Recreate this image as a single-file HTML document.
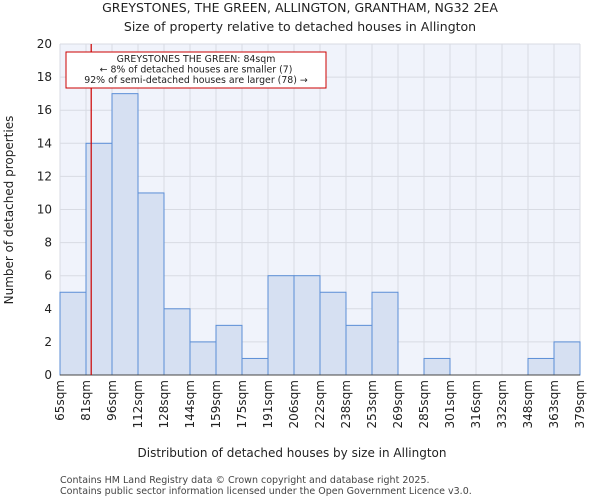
<!DOCTYPE html>
<html><head><meta charset="utf-8"><style>
body{margin:0;background:#fff;font-family:"DejaVu Sans","Liberation Sans",sans-serif}
svg text{font-family:"DejaVu Sans","Liberation Sans",sans-serif}
</style></head><body>
<svg id="c" width="600" height="500">
<text x="300" y="12" text-anchor="middle" font-size="12.5" fill="#222">GREYSTONES, THE GREEN, ALLINGTON, GRANTHAM, NG32 2EA</text>
<text x="300" y="31" text-anchor="middle" font-size="12.5" fill="#222">Size of property relative to detached houses in Allington</text>
<rect x="60" y="44" width="520" height="331" fill="#f0f3fb"/>
<g id="grid"></g><g id="bars"></g><g id="axes"></g>
<line id="marker" stroke="#cc0000" stroke-width="1.2"/>
<rect x="66" y="52" width="260" height="36" fill="#fff" stroke="#cc0000" stroke-width="1"/>
<text x="196" y="62" text-anchor="middle" font-size="9.4" fill="#222">GREYSTONES THE GREEN: 84sqm</text>
<text x="196" y="72.5" text-anchor="middle" font-size="9.4" fill="#222">← 8% of detached houses are smaller (7)</text>
<text x="196" y="83" text-anchor="middle" font-size="9.4" fill="#222">92% of semi-detached houses are larger (78) →</text>
<text x="292" y="457" text-anchor="middle" font-size="12" fill="#222">Distribution of detached houses by size in Allington</text>
<text transform="translate(13,210) rotate(-90)" text-anchor="middle" font-size="12" fill="#222">Number of detached properties</text>
<text x="60" y="483" font-size="9.5" fill="#444">Contains HM Land Registry data © Crown copyright and database right 2025.</text>
<text x="60" y="494" font-size="9.5" fill="#444">Contains public sector information licensed under the Open Government Licence v3.0.</text>
</svg>
<script>
const binLabels=["65sqm","81sqm","96sqm","112sqm","128sqm","144sqm","159sqm","175sqm","191sqm","206sqm","222sqm","238sqm","253sqm","269sqm","285sqm","301sqm","316sqm","332sqm","348sqm","363sqm","379sqm"];
const counts=[5,14,17,11,4,2,3,1,6,6,5,3,5,0,1,0,0,0,1,2];
const yTicks=[0,2,4,6,8,10,12,14,16,18,20];
const markerValue=84;
const binEdges=[65,81,96,112,128,144,159,175,191,206,222,238,253,269,285,301,316,332,348,363,379];
const L=60,R=580,T=44,B=375,yMax=20;
const NS="http://www.w3.org/2000/svg";
const bw=(R-L)/counts.length;
const xs=i=>L+i*bw;
const ys=v=>B-(v/yMax)*(B-T);
function mk(t,p,a){const e=document.createElementNS(NS,t);for(const k in a)e.setAttribute(k,a[k]);p.appendChild(e);return e;}
const grid=document.getElementById('grid'),bars=document.getElementById('bars'),axes=document.getElementById('axes');
yTicks.forEach(v=>{
 const g=mk('line',grid,{x1:L,x2:R,y1:ys(v),y2:ys(v),stroke:'#d8dbe3','stroke-width':1});
 
 
 const t=mk('text',axes,{x:L-8,y:ys(v)+4,'text-anchor':'end','font-size':12,fill:'#222'});
 t.textContent=v;
 
 
});
binLabels.forEach((s,i)=>{
 const g=mk('line',grid,{x1:xs(i),x2:xs(i),y1:T,y2:B,stroke:'#d8dbe3','stroke-width':1});
 
 
 const t=mk('text',axes,{transform:`translate(${xs(i)+4},${B+5}) rotate(-90)`,'text-anchor':'end','font-size':12,fill:'#222'});
 t.textContent=s;
 
 
});
counts.forEach((v,i)=>{
 if(v<=0)return;
 const r=mk('rect',bars,{x:xs(i),y:ys(v),width:bw,height:B-ys(v),fill:'#d6e0f2',stroke:'#5b8ed6','stroke-width':1});
 
 
});
const ax=mk('line',axes,{x1:L,x2:R,y1:B,y2:B,stroke:'#444','stroke-width':1});


let k=0;while(k<binEdges.length-2&&binEdges[k+1]<=markerValue)k++;
const mx=xs(k)+bw*(markerValue-binEdges[k])/(binEdges[k+1]-binEdges[k]);
const m=document.getElementById('marker');
m.setAttribute('x1',mx);m.setAttribute('x2',mx);m.setAttribute('y1',T);m.setAttribute('y2',B);
</script>
</body></html>
